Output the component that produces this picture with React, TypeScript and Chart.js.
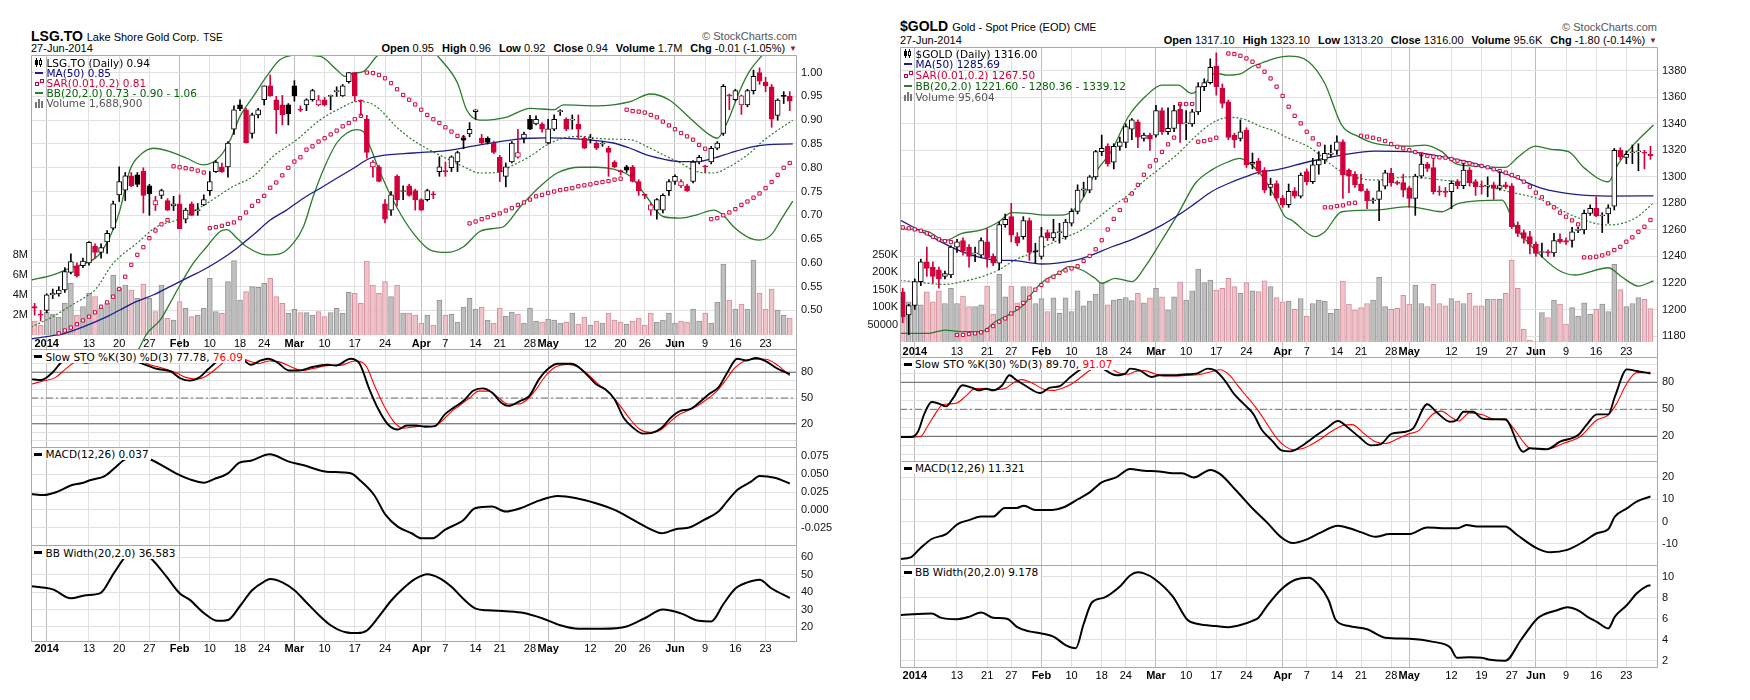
import React, { useEffect, useRef } from "react";
import { Chart, registerables } from "chart.js";

Chart.register(...registerables);

type P = [number, number];

/* ===================== LSG.TO  (30-Dec-2013 .. 27-Jun-2014, day index) ===================== */
const lsgTicks: [number, string][] = [
  [2, "2014"], [9, "13"], [14, "20"], [19, "27"], [24, "Feb"], [29, "10"], [34, "18"], [38, "24"],
  [43, "Mar"], [48, "10"], [53, "17"], [58, "24"], [64, "Apr"], [68, "7"], [73, "14"], [77, "21"],
  [82, "28"], [85, "May"], [92, "12"], [97, "20"], [101, "26"], [106, "Jun"], [111, "9"], [116, "16"], [121, "23"],
];
const lsgOpen = [
  0.508, 0.492, 0.5, 0.533, 0.535, 0.543, 0.58, 0.594, 0.594, 0.6,
  0.635, 0.622, 0.644, 0.673, 0.743, 0.753, 0.783, 0.785, 0.793, 0.762,
  0.722, 0.742, 0.731, 0.72, 0.724, 0.692, 0.724, 0.71, 0.722, 0.752,
  0.792, 0.802, 0.802, 0.881, 0.932, 0.922, 0.872, 0.911, 0.943, 0.972,
  0.943, 0.932, 0.932, 0.972, 0.922, 0.932, 0.943, 0.932, 0.943, 0.95,
  0.96, 0.951, 0.981, 1.0, 0.94, 0.902, 0.802, 0.802, 0.724, 0.711,
  0.782, 0.75, 0.762, 0.752, 0.733, 0.733, 0.744, 0.792, 0.792, 0.8,
  0.812, 0.862, 0.871, 0.918, 0.862, 0.862, 0.852, 0.822, 0.782, 0.812,
  0.822, 0.862, 0.902, 0.892, 0.892, 0.852, 0.881, 0.918, 0.902, 0.9,
  0.892, 0.862, 0.86, 0.852, 0.85, 0.841, 0.812, 0.792, 0.802, 0.802,
  0.771, 0.742, 0.711, 0.711, 0.711, 0.752, 0.771, 0.762, 0.762, 0.771,
  0.812, 0.802, 0.812, 0.841, 0.872, 0.951, 0.943, 0.932, 0.932, 0.962,
  1.0, 0.98, 0.97, 0.91, 0.952, 0.95,
];
const lsgHigh = [
  0.515, 0.5, 0.535, 0.545, 0.55, 0.59, 0.619, 0.6, 0.61, 0.645,
  0.64, 0.64, 0.668, 0.73, 0.802, 0.79, 0.79, 0.79, 0.8, 0.765,
  0.74, 0.755, 0.735, 0.74, 0.743, 0.715, 0.728, 0.725, 0.743, 0.792,
  0.815, 0.81, 0.855, 0.93, 0.943, 0.925, 0.915, 0.925, 0.972, 0.995,
  0.95, 0.952, 0.935, 0.983, 0.93, 0.945, 0.965, 0.952, 0.948, 0.953,
  0.97, 0.975, 1.0, 1.0, 0.942, 0.91, 0.815, 0.805, 0.733, 0.75,
  0.785, 0.762, 0.765, 0.755, 0.735, 0.755, 0.75, 0.823, 0.812, 0.825,
  0.835, 0.868, 0.895, 0.922, 0.87, 0.865, 0.856, 0.826, 0.81, 0.855,
  0.881, 0.875, 0.91, 0.909, 0.895, 0.902, 0.911, 0.922, 0.905, 0.911,
  0.911, 0.865, 0.87, 0.855, 0.855, 0.845, 0.815, 0.795, 0.805, 0.805,
  0.775, 0.745, 0.725, 0.735, 0.745, 0.775, 0.785, 0.775, 0.765, 0.815,
  0.826, 0.805, 0.845, 0.855, 0.975, 0.955, 0.965, 0.953, 0.965, 1.005,
  1.01, 0.99, 0.975, 0.945, 0.96, 0.96,
];
const lsgLow = [
  0.49, 0.478, 0.495, 0.525, 0.53, 0.538, 0.577, 0.57, 0.59, 0.595,
  0.61, 0.61, 0.62, 0.67, 0.729, 0.731, 0.76, 0.76, 0.705, 0.7,
  0.71, 0.735, 0.71, 0.71, 0.672, 0.684, 0.7, 0.7, 0.72, 0.742,
  0.79, 0.79, 0.78, 0.87, 0.92, 0.852, 0.862, 0.905, 0.932, 0.95,
  0.872, 0.89, 0.89, 0.94, 0.918, 0.92, 0.94, 0.93, 0.93, 0.922,
  0.95, 0.95, 0.978, 0.94, 0.91, 0.82, 0.78, 0.77, 0.684, 0.7,
  0.72, 0.733, 0.74, 0.711, 0.71, 0.73, 0.735, 0.782, 0.782, 0.792,
  0.792, 0.84, 0.865, 0.902, 0.85, 0.85, 0.83, 0.771, 0.76, 0.81,
  0.82, 0.852, 0.88, 0.89, 0.875, 0.85, 0.878, 0.91, 0.878, 0.881,
  0.862, 0.84, 0.852, 0.838, 0.845, 0.782, 0.8, 0.785, 0.79, 0.77,
  0.742, 0.735, 0.7, 0.692, 0.705, 0.742, 0.765, 0.758, 0.75, 0.768,
  0.808, 0.79, 0.808, 0.838, 0.868, 0.922, 0.94, 0.912, 0.928, 0.955,
  0.975, 0.96, 0.885, 0.9, 0.935, 0.92,
];
const lsgClose = [
  0.505, 0.49, 0.533, 0.536, 0.543, 0.582, 0.603, 0.573, 0.604, 0.643,
  0.622, 0.632, 0.662, 0.724, 0.771, 0.783, 0.762, 0.765, 0.742, 0.745,
  0.731, 0.752, 0.711, 0.724, 0.672, 0.711, 0.7, 0.711, 0.733, 0.771,
  0.812, 0.792, 0.852, 0.922, 0.924, 0.852, 0.911, 0.922, 0.972, 0.951,
  0.922, 0.911, 0.913, 0.951, 0.921, 0.943, 0.962, 0.943, 0.932, 0.951,
  0.962, 0.972, 1.0, 0.951, 0.94, 0.832, 0.812, 0.771, 0.692, 0.743,
  0.733, 0.752, 0.742, 0.733, 0.711, 0.752, 0.743, 0.802, 0.792, 0.823,
  0.832, 0.858, 0.881, 0.922, 0.852, 0.853, 0.832, 0.792, 0.802, 0.852,
  0.832, 0.871, 0.881, 0.902, 0.881, 0.882, 0.902, 0.92, 0.881, 0.902,
  0.881, 0.841, 0.862, 0.841, 0.852, 0.832, 0.802, 0.792, 0.795, 0.771,
  0.752, 0.742, 0.722, 0.733, 0.742, 0.771, 0.782, 0.771, 0.752, 0.812,
  0.822, 0.802, 0.841, 0.852, 0.971, 0.951, 0.962, 0.951, 0.962, 0.992,
  0.982, 0.972, 0.902, 0.942, 0.95, 0.94,
];
const lsgVolumeM = [
  1.4, 1.0, 2.3, 2.1, 1.8, 3.2, 5.17, 2.0, 2.83, 4.17,
  3.83, 2.67, 3.17, 6.0, 4.67, 5.0, 4.5, 3.67, 5.1, 3.67,
  2.33, 5.0, 1.67, 1.5, 3.33, 2.67, 1.83, 2.0, 2.67, 5.67,
  2.33, 2.17, 5.33, 7.43, 3.5, 4.33, 4.83, 4.77, 5.17, 5.67,
  3.83, 3.17, 2.17, 2.57, 2.23, 2.23, 2.0, 2.33, 1.83, 2.23,
  2.67, 2.17, 4.27, 4.17, 3.17, 7.4, 5.0, 4.17, 5.33, 3.83,
  5.0, 2.2, 2.2, 2.0, 1.2, 2.0, 1.0, 3.5, 2.0, 2.1,
  1.3, 2.8, 3.67, 2.6, 2.8, 1.5, 1.2, 2.7, 1.9, 2.3,
  2.1, 1.2, 2.7, 1.4, 1.3, 1.6, 1.5, 1.2, 1.3, 2.2,
  1.1, 1.8, 1.0, 1.4, 1.2, 2.2, 1.5, 1.3, 1.1, 1.4,
  1.7, 1.0, 2.2, 1.3, 1.5, 2.2, 1.2, 1.4, 1.3, 2.6,
  1.4, 2.2, 1.2, 3.3, 7.1, 3.5, 2.6, 3.1, 2.6, 7.5,
  4.2, 2.6, 4.6, 2.5, 2.0, 1.69,
];
const lsgSar: (number | null)[] = [
  null, null, null, null, 0.452, 0.458, 0.464, 0.471, 0.479, 0.487,
  0.496, 0.508, 0.517, 0.529, 0.545, 0.571, 0.596, 0.617, 0.633, 0.652,
  0.668, 0.681, 0.69, 0.803, 0.801, 0.799, 0.797, 0.794, 0.79, 0.673,
  0.675, 0.678, 0.682, 0.685, 0.694, 0.706, 0.72, 0.73, 0.741, 0.758,
  0.769, 0.784, 0.8, 0.813, 0.822, 0.838, 0.845, 0.855, 0.862, 0.87,
  0.878, 0.887, 0.894, 0.902, 0.909, 1.0, 0.999, 0.995, 0.988, 0.978,
  0.965, 0.953, 0.943, 0.933, 0.922, 0.911, 0.902, 0.894, 0.885, 0.876,
  0.867, 0.862, 0.683, 0.687, 0.692, 0.696, 0.701, 0.704, 0.71, 0.715,
  0.722, 0.727, 0.733, 0.74, 0.743, 0.747, 0.75, 0.753, 0.755, 0.757,
  0.761, 0.763, 0.765, 0.768, 0.77, 0.772, 0.775, 0.777, 0.922, 0.919,
  0.918, 0.916, 0.911, 0.906, 0.897, 0.889, 0.881, 0.873, 0.866, 0.859,
  0.848, 0.84, 0.692, 0.694, 0.7, 0.706, 0.713, 0.722, 0.729, 0.737,
  0.746, 0.757, 0.77, 0.785, 0.8, 0.81,
];
const lsgMa50: P[] = [
  [-0.6, 0.44], [3, 0.447], [5, 0.452], [12, 0.487], [14.1, 0.501], [16.9, 0.519], [19.7, 0.533], [22.4, 0.55],
  [25.2, 0.568], [27.9, 0.585], [30.7, 0.606], [33.5, 0.631], [36.2, 0.659], [39, 0.69], [41.7, 0.711], [44.5, 0.736],
  [47.3, 0.757], [50, 0.778], [52.8, 0.799], [55.5, 0.82], [57.2, 0.825], [62.7, 0.831], [68.2, 0.836], [73.7, 0.848],
  [79.3, 0.859], [82, 0.862], [84.8, 0.863], [90.3, 0.86], [95.8, 0.852], [98.6, 0.841], [101.3, 0.827], [104.1, 0.818],
  [106.9, 0.813], [109.6, 0.813], [112.4, 0.82], [115.1, 0.831], [118.4, 0.843], [121, 0.848], [125.5, 0.85],
];
const lsgBbUpper: P[] = [
  [-0.6, 0.564], [3.1, 0.575], [5.9, 0.589], [8.6, 0.6], [10.5, 0.615], [11.9, 0.641], [13, 0.67], [14.1, 0.71],
  [15.8, 0.796], [17.5, 0.827], [19.7, 0.841], [22.4, 0.834], [25.2, 0.82], [27.9, 0.806], [30.7, 0.824], [32.4, 0.859],
  [34, 0.908], [36.2, 0.95], [38.4, 0.992], [40.6, 1.027], [43.4, 1.037], [47.3, 1.034], [50, 1.006], [51.4, 0.992],
  [52.8, 0.999], [54.4, 1.002], [56.6, 1.034], [58.3, 1.05], [60, 1.09], [62, 1.11], [64, 1.08], [66.6, 1.037],
  [70, 0.978], [71.5, 0.922], [73.7, 0.9], [78, 0.906], [82, 0.925], [86, 0.922], [87.5, 0.932], [93, 0.93],
  [98.6, 0.939], [101.9, 0.955], [105, 0.943], [108.5, 0.904], [111.3, 0.873], [113, 0.862], [114.6, 0.894],
  [116.8, 0.964], [118.3, 1.002], [120, 1.03], [122, 1.055], [125.5, 1.06],
];
const lsgBbMid: P[] = [
  [-0.6, 0.465], [3, 0.487], [6, 0.51], [8.6, 0.53], [10, 0.543], [13, 0.599], [16.9, 0.641], [20.2, 0.676],
  [23.5, 0.69], [28.5, 0.725], [32.9, 0.761], [36.2, 0.782], [39.5, 0.824], [43.4, 0.859], [47.3, 0.901], [50.6, 0.925],
  [53.3, 0.939], [55.5, 0.936], [57.2, 0.922], [59.8, 0.887], [62.5, 0.859], [65.3, 0.838], [68.1, 0.82], [70.9, 0.803],
  [73.7, 0.789], [76.5, 0.79], [79.3, 0.806], [82, 0.824], [84.8, 0.848], [87.5, 0.862], [90.3, 0.866], [93, 0.862],
  [95.8, 0.86], [98.6, 0.859], [101.3, 0.845], [104.1, 0.827], [106.9, 0.81], [109.6, 0.792], [112.4, 0.789],
  [115.1, 0.803], [118.4, 0.831], [120, 0.85], [122, 0.87], [125.5, 0.9],
];
const lsgBbLower: P[] = [
  [-0.6, 0.37], [5, 0.38], [10, 0.39], [14, 0.4], [17, 0.415], [18.6, 0.452], [20.8, 0.48], [22.4, 0.515],
  [24.1, 0.554], [26.3, 0.6], [28.5, 0.634], [30.7, 0.666], [31.8, 0.67], [33.5, 0.652], [35.1, 0.634], [38.4, 0.617],
  [40.6, 0.619], [42.8, 0.641], [44.5, 0.676], [46.1, 0.739], [47.8, 0.796], [50, 0.852], [51.7, 0.873], [53.3, 0.88],
  [54.4, 0.876], [55.5, 0.845], [57.2, 0.79], [59.9, 0.718], [62.7, 0.662], [65.5, 0.627], [68.2, 0.622], [71, 0.634],
  [73.7, 0.666], [76.5, 0.673], [77.6, 0.676], [80.4, 0.718], [83.7, 0.761], [86.5, 0.789], [90.3, 0.801], [93, 0.801],
  [95.8, 0.797], [98.6, 0.782], [101.3, 0.739], [104.1, 0.697], [106.9, 0.694], [109.6, 0.701], [112.4, 0.711],
  [114, 0.7], [115.7, 0.676], [118.4, 0.652], [120, 0.648], [122, 0.66], [123.5, 0.69], [125.5, 0.73],
];
const lsgStoK: P[] = [
  [-0.6, 72], [1.1, 71], [3, 80], [4.2, 89.8], [5.4, 95.7], [6.9, 93.7], [8.5, 91], [10.1, 93.7], [11.6, 97.6],
  [13.2, 99.6], [15.5, 95.7], [17.9, 89.8], [20.2, 84], [22.6, 80.8], [24.1, 73], [25.7, 70.2], [27.3, 74.1],
  [28.8, 84], [30.4, 93.7], [31.9, 99.6], [34.3, 95.7], [35.8, 88.6], [37.4, 93.7], [38.6, 95.7], [40.1, 91.8],
  [42.1, 82], [43.7, 82], [46, 86], [48.3, 88.6], [49.9, 87.8], [52.3, 95.7], [53.8, 89.8], [55.4, 60.4],
  [56.9, 36.9], [58.5, 19.2], [60.1, 13.3], [61.6, 18], [63.2, 18], [64.7, 16.5], [66.3, 17.3], [67.9, 31],
  [69.4, 38.8], [71, 46.7], [72.6, 58.4], [74.1, 61.2], [75.7, 56.5], [77.2, 44.7], [78.4, 40.8], [80.4, 46.7],
  [81.9, 52.5], [83.5, 72], [85, 84], [86.6, 89.8], [88.9, 89.8], [91.3, 78], [92.9, 66.3], [94.4, 60.4],
  [96, 48.6], [97.5, 27.1], [99.1, 15.3], [100.7, 8.6], [102.2, 9.4], [103.8, 15.3], [105.3, 27.1], [106.9, 35],
  [108.5, 37], [110, 44.7], [111.6, 54.5], [113.2, 62.4], [114.7, 80], [116.3, 95.7], [117.9, 93.7], [119.4, 96.5],
  [121, 93], [123, 84], [125, 77.78],
];
const lsgStoD: P[] = [
  [-0.6, 66], [1.5, 70], [3.5, 74], [5, 83], [6.5, 91], [8, 93], [9.5, 92], [11, 94], [12.5, 96], [14, 97],
  [16.5, 95], [19, 89], [21.5, 84], [23.5, 79], [25, 74], [26.8, 72], [28.5, 76], [30, 84], [31.6, 93], [33.5, 97],
  [35.5, 93], [37, 90], [38.8, 93], [40.5, 92], [42.5, 86], [44.2, 82], [46.5, 85], [48.8, 88], [50.5, 88], [53, 93],
  [54.8, 88], [56.3, 64], [57.9, 40], [59.5, 22], [61, 15], [62.5, 16], [64.2, 17.5], [65.7, 17], [67.2, 22],
  [68.8, 33], [70.3, 41], [72, 50], [73.5, 58], [75.2, 58], [76.7, 51], [78.3, 43], [80, 43], [81.5, 48], [83, 60],
  [84.5, 75], [86.2, 86], [88.3, 89], [90, 86], [91.8, 76], [93.5, 65], [95, 57], [96.8, 42], [98.5, 26],
  [100.1, 14], [101.8, 10], [103.4, 12], [105, 21], [106.5, 30], [108, 35], [109.5, 40], [111.2, 48], [112.8, 57],
  [114.3, 70], [115.9, 85], [117.5, 93], [119, 95], [121, 95], [123, 88], [125, 76.09],
];
const lsgMacd: P[] = [
  [-0.6, 0.0223], [1.5, 0.0209], [3.8, 0.0256], [6.2, 0.0349], [7.7, 0.0372], [9.3, 0.0419], [11.6, 0.0474],
  [13.2, 0.0582], [14.8, 0.0698], [16.5, 0.076], [18, 0.075], [19.4, 0.0698], [21, 0.0628], [23.4, 0.0512],
  [25.7, 0.0428], [28.1, 0.0381], [29.6, 0.0428], [32, 0.0512], [33.9, 0.0661], [35.8, 0.0689], [38.9, 0.0777],
  [42.1, 0.0675], [44.4, 0.0628], [48.3, 0.0535], [52.3, 0.0512], [53.8, 0.0419], [56.2, 0.0209], [58.1, -0.007],
  [60.1, -0.0233], [62.4, -0.0326], [64, -0.0396], [65.9, -0.0396], [67.9, -0.0279], [71, -0.014], [72.9, 0.0023],
  [75.7, 0.0047], [78, -0.0023], [80.4, 0.0023], [83.5, 0.013], [86.6, 0.0195], [89.7, 0.0163], [92.9, 0.0093],
  [96, 0], [99.1, -0.014], [102.2, -0.0279], [103.8, -0.0326], [106.1, -0.027], [108.5, -0.0242], [110.8, -0.014],
  [113.2, -0.0023], [114.7, 0.0126], [116.3, 0.0279], [118.6, 0.0395], [120, 0.0474], [122.5, 0.045], [125, 0.037],
];
const lsgBbw: P[] = [
  [-0.6, 43.3], [3, 41.5], [6, 36.4], [8.5, 38.2], [10.8, 39.2], [13.1, 50.7], [15, 60], [16.5, 63], [18, 62],
  [19.4, 58.8], [21.8, 48.9], [24, 39.3], [25.7, 35.5], [28, 28], [30.3, 23.5], [32, 24], [34, 32], [36, 41],
  [38, 46], [39, 47.4], [41, 45.5], [43, 41], [45, 34], [47, 27], [49, 21], [51.5, 17], [53.5, 16.5], [55, 18],
  [57, 26], [59, 35], [61, 42], [63, 47.5], [65, 50.2], [67, 48], [69, 43], [71, 36], [73, 30.5], [75, 29.5],
  [78, 29], [81, 28], [84, 25], [87, 21], [90, 19], [94, 19], [98, 20.3], [101, 25], [104, 30], [107, 27.8],
  [110, 23.5], [112, 23.2], [114, 33], [116, 42], [118, 45.5], [120, 47], [122, 42], [125, 36.58],
];

/* ===================== $GOLD  (30-Dec-2013 .. 27-Jun-2014, day index) ===================== */
const goldTicks: [number, string][] = [
  [2, "2014"], [9, "13"], [14, "21"], [18, "27"], [23, "Feb"], [28, "10"], [33, "18"], [37, "24"],
  [42, "Mar"], [47, "10"], [52, "17"], [57, "24"], [63, "Apr"], [67, "7"], [72, "14"], [76, "21"],
  [81, "28"], [84, "May"], [91, "12"], [96, "19"], [101, "27"], [105, "Jun"], [110, "9"], [115, "16"], [120, "23"],
];
const goldOpen = [
  1213.4, 1196, 1203, 1221, 1236, 1232, 1230, 1225, 1226, 1247,
  1252, 1247, 1242, 1241, 1251, 1240, 1235, 1264, 1270, 1255,
  1255, 1267, 1243.8, 1240, 1258, 1254, 1258, 1255, 1265, 1274,
  1290, 1290, 1300, 1319, 1323, 1311, 1323, 1326, 1336, 1341.5,
  1329, 1331.5, 1331.5, 1350, 1334, 1336.5, 1351, 1340, 1340, 1349,
  1368, 1371, 1383.5, 1366.7, 1356.6, 1331.5, 1329, 1335, 1309.5, 1312,
  1305, 1292, 1295, 1283.8, 1279, 1289.5, 1285.5, 1304, 1296.4, 1309,
  1312.7, 1317, 1320, 1326.5, 1305, 1302, 1294.6, 1289.5, 1282, 1283,
  1293, 1302.6, 1296, 1295.6, 1291.8, 1283.8, 1300.6, 1309.7, 1307, 1289.5,
  1288.5, 1288.8, 1296.4, 1293.3, 1305.1, 1296.4, 1293.2, 1293, 1294, 1291.3,
  1294, 1293.3, 1263.6, 1258, 1254.9, 1249.3, 1243, 1243.6, 1242.7, 1253,
  1252, 1252, 1259.6, 1260, 1272.5, 1276.3, 1270.5, 1272, 1278, 1320,
  1314.6, 1318.2, 1318.8, 1318.2, 1317.1,
];
const goldHigh = [
  1216, 1204, 1223, 1238, 1247, 1236, 1232, 1229, 1248, 1253,
  1254, 1249, 1247, 1254, 1261, 1242, 1266, 1272, 1280, 1258,
  1270, 1269, 1250, 1262, 1260, 1268, 1265, 1268, 1276, 1294,
  1296, 1301, 1320, 1331.5, 1325, 1325, 1330, 1340, 1344, 1343,
  1333, 1333, 1354, 1352, 1352, 1354, 1355, 1350, 1351, 1371,
  1374, 1389, 1393.5, 1370, 1358, 1333, 1343, 1337, 1318, 1314,
  1307, 1299, 1297, 1286, 1294.6, 1292, 1303, 1306, 1314, 1319,
  1324, 1324, 1331, 1328, 1306, 1304, 1302, 1291, 1284, 1297,
  1305, 1306.5, 1297, 1302, 1293, 1302, 1317.7, 1311, 1313.9, 1293,
  1292, 1297, 1298, 1310, 1307, 1298, 1297, 1300, 1296, 1304,
  1296, 1295, 1266, 1260, 1259, 1251, 1250, 1245, 1257.4, 1257,
  1254, 1262, 1262, 1275, 1279, 1285, 1273, 1279, 1321.5, 1322,
  1319.5, 1324, 1325, 1320, 1323.1,
];
const goldLow = [
  1190, 1181, 1200, 1218, 1225, 1220, 1216, 1223, 1224, 1243,
  1241, 1232, 1236, 1239, 1232, 1233, 1230, 1262, 1251, 1248,
  1253, 1237, 1235, 1238, 1252, 1252, 1250, 1253, 1263, 1272,
  1285, 1288, 1298, 1316, 1308, 1306, 1320, 1322, 1328, 1322,
  1327, 1320, 1330, 1332, 1332, 1334, 1326, 1328, 1338, 1347,
  1365, 1370, 1361.6, 1352, 1328, 1322, 1327, 1307, 1306, 1302,
  1288, 1286, 1282, 1277, 1277, 1284, 1284, 1294, 1295, 1302,
  1310, 1315, 1317, 1283.8, 1288, 1292, 1289, 1276, 1280, 1267,
  1291, 1293, 1294, 1285, 1277, 1271, 1299, 1304, 1287, 1286,
  1285, 1276, 1291, 1291, 1293, 1286, 1287, 1285, 1283, 1290,
  1291, 1261, 1255, 1250, 1242, 1240, 1239.5, 1240, 1240, 1250,
  1249, 1247, 1258, 1257, 1271, 1270, 1258, 1265, 1275, 1313,
  1310, 1310, 1304.6, 1306, 1313.2,
];
const goldClose = [
  1194.6, 1203, 1221, 1236, 1231, 1225, 1223, 1227, 1247, 1251,
  1244, 1240, 1242.5, 1252, 1239, 1235, 1264, 1268, 1256, 1250,
  1267, 1243, 1243.5, 1255, 1254, 1258, 1258.5, 1266, 1274, 1290,
  1291, 1300, 1319, 1321.5, 1310, 1323, 1326.5, 1338, 1343, 1330,
  1331.5, 1328.5, 1350, 1334, 1336.5, 1350, 1340, 1340.5, 1349, 1368,
  1371, 1382.5, 1368, 1355.4, 1329.8, 1327.8, 1334, 1309, 1311, 1304.6,
  1290, 1294.5, 1284, 1278.8, 1289, 1285.5, 1301.4, 1296.4, 1309, 1312.7,
  1317.7, 1318, 1326.5, 1301.4, 1300.5, 1294, 1289.5, 1282, 1282.3, 1289.5,
  1303, 1295.6, 1295, 1290, 1283.8, 1300.6, 1309.7, 1306.4, 1288.8, 1288.6,
  1288.3, 1295.1, 1293.3, 1305.1, 1295.6, 1292.6, 1292.4, 1293.6, 1291.3, 1293.5,
  1292.5, 1262.4, 1257.4, 1253.6, 1249.3, 1242.3, 1243.6, 1242.7, 1252, 1251,
  1250.8, 1258.6, 1260, 1272.5, 1276.3, 1270.6, 1271, 1276.7, 1320, 1315,
  1317, 1318.5, 1319, 1317.8, 1316.0,
];
const goldVolumeK = [
  106, 115, 129, 106, 143, 115, 146, 110, 153, 110,
  131, 101, 101, 106, 160, 80, 193, 129, 160, 112,
  158, 158, 110, 124, 87, 126, 82, 126, 87, 146,
  103, 117, 137, 170, 106, 120, 122, 127, 118, 139,
  112, 126, 153, 129, 91, 129, 172, 120, 146, 208,
  170, 177, 148, 153, 182, 158, 139, 170, 146, 144,
  175, 158, 127, 115, 117, 93, 124, 74, 110, 120,
  117, 82, 93, 174, 108, 91, 98, 110, 120, 185,
  101, 93, 96, 133, 108, 162, 110, 101, 165, 110,
  103, 124, 117, 110, 139, 103, 103, 122, 122, 122,
  139, 234, 153, 36, 5, 1, 84, 70, 120, 108,
  51, 98, 74, 112, 79, 93, 108, 87, 222, 150,
  101, 110, 127, 122, 95.6,
];
const goldSar: (number | null)[] = [
  1261.9, 1261.2, 1260.4, 1259.4, 1257.4, 1254.9, 1252.9, 1251.6, 1250.8, 1180.8,
  1180.8, 1181.5, 1182, 1182.8, 1184.5, 1187.5, 1190.8, 1193.3, 1197, 1201,
  1205, 1209, 1215, 1218.5, 1222, 1224.7, 1227.7, 1229.5, 1231, 1232.6,
  1236.6, 1240.4, 1245.4, 1252.2, 1260.3, 1268.3, 1275, 1282.3, 1287.4, 1294,
  1301.6, 1307.9, 1312.5, 1318.8, 1324.5, 1329.6, 1354.9, 1354.9, 1354.9, 1326.5,
  1327, 1328, 1329.5, null, 1393, 1392.6, 1391.3, 1389.3, 1386.8, 1383.5,
  1379.3, 1374.2, 1368, 1361, 1352.9, 1346, 1340.3, 1334, 1329, 1324.5,
  1277, 1277, 1278, 1278.5, 1280, 1280.5, 1331, 1330.3, 1329.5, 1328.3,
  1327, 1324.7, 1322.7, 1321.5, 1320.2, 1318.7, 1317, 1315.7, 1315.2, 1314.7,
  1314.5, 1313.5, 1312.2, 1311.2, 1310.2, 1309, 1308.2, 1307.2, 1305.7, 1304.4,
  1303.2, 1301.4, 1299.7, 1296.4, 1292.6, 1288.1, 1284.6, 1280, 1277, 1273,
  1270, 1267.2, 1264.2, 1239.3, 1239.3, 1239.8, 1240.8, 1242.3, 1244.8, 1247.3,
  1251.1, 1254.4, 1258.6, 1262.4, 1267.5,
];
const goldMa50: P[] = [
  [-0.5, 1267.6], [4.3, 1256], [9.8, 1243.6], [15.3, 1237.3], [18.1, 1237], [23, 1234.3], [28.7, 1237.3],
  [30.8, 1240], [34.7, 1247.3], [38.5, 1253.6], [43, 1263.6], [45.7, 1271.2], [48.5, 1280], [51.2, 1288.8],
  [54, 1295], [56.8, 1300], [59.5, 1303.9], [61.7, 1305], [67.3, 1311.4], [72.8, 1316.4], [78.3, 1319.4],
  [83.9, 1319], [89.4, 1315.2], [94.9, 1310], [100.5, 1301.4], [106, 1291.3], [111.5, 1286.8], [117, 1285.5],
  [124.5, 1285.69],
];
const goldBbUpper: P[] = [
  [-0.5, 1261], [4.3, 1258.6], [7, 1252], [9.8, 1257.4], [13.1, 1260], [15.9, 1266], [18.1, 1273], [20.8, 1272.5],
  [23.6, 1271.2], [26.4, 1271.2], [28, 1273.7], [29.7, 1282.5], [31.9, 1302.6], [34.7, 1320.2], [37.4, 1345.3],
  [40.2, 1360.4], [43, 1369.2], [45.7, 1369.2], [47.9, 1362.9], [50.1, 1370.4], [51.8, 1378], [54, 1376.7],
  [56.2, 1378], [57.9, 1383], [60.1, 1386.8], [61.7, 1389.3], [64, 1391], [67.3, 1386.8], [70, 1370.4],
  [72.8, 1339], [75.6, 1330.3], [78.3, 1325.2], [83.9, 1323.2], [86.6, 1324], [89.4, 1319], [91.6, 1310.2],
  [94.9, 1308.1], [99.9, 1307.1], [102.1, 1315.2], [104.9, 1323.2], [107.6, 1320.7], [110.4, 1319],
  [113.1, 1306.4], [117, 1296.3], [118.7, 1310.2], [121.4, 1325.2], [124.5, 1339.12],
];
const goldBbMid: P[] = [
  [-0.5, 1222], [4.3, 1219.7], [7, 1218.9], [9.8, 1221], [13.1, 1224.7], [15.9, 1229.8], [18.6, 1237.3],
  [21.9, 1243.6], [24.7, 1250], [27.5, 1255.4], [29.7, 1260], [31.9, 1267.4], [34.7, 1277.5], [37.4, 1286.3],
  [40.2, 1297.6], [43, 1307.6], [45.7, 1317.7], [48.5, 1330.3], [51.2, 1340.3], [54, 1344.8], [56.2, 1344],
  [59.5, 1337.8], [61.7, 1334.5], [63.4, 1330.3], [67.3, 1322.7], [72.8, 1303.9], [78.3, 1297.6], [83.9, 1300],
  [89.4, 1297.6], [94.9, 1295], [100.5, 1288.8], [106, 1282.5], [111.5, 1270], [117, 1263.7], [121.4, 1268.7],
  [124.5, 1280.36],
];
const goldBbLower: P[] = [
  [-0.5, 1182], [4.3, 1182], [7, 1184.5], [9.8, 1183.3], [13.1, 1183.3], [15.3, 1190.8], [17.5, 1195.8],
  [20.3, 1204.6], [21.4, 1212], [23.6, 1222.2], [25.8, 1227.2], [27.5, 1232.3], [29.7, 1229.8], [31.9, 1223.5],
  [33, 1219.7], [35.2, 1223.5], [38, 1221], [40.2, 1232.3], [43, 1252.4], [45.7, 1272.5], [48.5, 1295],
  [51.2, 1305.1], [54, 1311.4], [55.9, 1313.9], [57.9, 1308.9], [60.1, 1297.6], [61.7, 1285], [63.4, 1270],
  [64.5, 1267.4], [68.4, 1254.9], [70, 1258.6], [72.8, 1273.7], [78.3, 1275], [83.9, 1277.5], [89.4, 1273.7],
  [92.2, 1280], [99.4, 1282.5], [101.6, 1262.4], [104.9, 1244.8], [108.7, 1229.8], [111.5, 1226], [117, 1231.5],
  [119.2, 1224.7], [122, 1217.7], [124.5, 1221.6],
];
const goldStoK: P[] = [
  [-0.5, 19.2], [1.3, 19.2], [2.5, 24.8], [3.6, 45.2], [4.8, 58.1], [6, 56.3], [7.2, 53.3], [8.3, 61.8],
  [9.9, 76.7], [11.5, 74], [12.6, 71.1], [13.8, 72.9], [15, 71.1], [16.5, 76.7], [17.7, 87.8], [18.9, 82.2],
  [20.5, 75.6], [22.8, 68.1], [24.4, 74], [26, 75.6], [27.5, 84.1], [29.1, 92.6], [30.5, 98], [32, 100],
  [33.8, 92.6], [35.4, 87.8], [36.9, 89.6], [37.7, 95.2], [39.3, 93.3], [41.3, 85.9], [42.5, 87.8], [44.8, 87.8],
  [47.2, 88.9], [48.7, 89.6], [50.6, 95.2], [51.8, 93.3], [53.4, 82.2], [54.9, 67.4], [56.5, 56.3], [58.1, 45.2],
  [59.6, 26.7], [61.2, 15.6], [62.8, 4.4], [64.3, 3.3], [65.9, 8.1], [67.1, 13.7], [68.6, 21.1], [70.2, 28.5],
  [72.2, 37], [73.7, 30.4], [75.7, 19.3], [77.6, 10], [79.2, 11], [81.1, 22.9], [83.1, 24.8], [84.6, 28.5],
  [87, 55.6], [88.5, 47], [90.8, 36.2], [91.9, 38.1], [93, 47.3], [94.6, 47.3], [96, 40], [97.4, 38.9],
  [99.9, 38.9], [102.9, 2.9], [104, 6.7], [106.8, 5.6], [109, 14], [112, 21.4], [113.4, 32.6], [115.1, 44.4],
  [117, 44.4], [118.1, 64], [120.1, 94.4], [121.7, 92.6], [124, 89.7],
];
const goldStoD: P[] = [
  [-0.5, 19], [1.5, 19], [3, 20], [4.2, 32], [5.4, 45], [6.6, 55], [7.8, 56], [9, 57], [10.5, 65], [12, 73],
  [13.3, 73], [14.5, 72], [15.8, 72], [17.2, 74], [18.5, 80], [19.7, 83], [21.2, 80], [23.5, 72], [25, 71],
  [26.7, 74], [28.2, 79], [29.8, 87], [31.2, 94], [33, 97], [34.5, 95], [36, 90], [37.5, 89], [38.5, 92],
  [40, 93], [42, 89], [43.3, 87], [45.5, 87], [48, 88], [49.5, 89], [51.3, 92], [52.6, 94], [54.2, 88],
  [55.6, 76], [57.2, 63], [58.8, 50], [60.4, 34], [62, 18], [63.6, 8], [65, 5], [66.6, 7], [67.8, 11],
  [69.3, 17], [71, 25], [73, 32], [74.5, 33], [76.5, 23], [78.4, 14], [80, 12], [82, 17], [84, 23], [85.5, 26],
  [87.8, 44], [89.3, 48], [91, 41], [92.2, 37], [94, 46], [96.3, 43.6], [98, 38.9], [99.9, 38.1], [101.5, 27],
  [102.9, 14], [104, 6.7], [106.8, 5.6], [109.6, 12.3], [112.3, 19.6], [115.1, 38.1], [117, 43.6],
  [118.4, 56.6], [120.1, 78.9], [121.7, 90.7], [124, 91.07],
];
const goldMacd: P[] = [
  [-0.5, -16.8], [1.3, -16.1], [2.8, -12.3], [4.8, -7.8], [7.2, -5.6], [9.1, -1.1], [11.1, 0.8], [13, 2.3],
  [15, 2.3], [16.9, 6.2], [18.9, 6.2], [20.1, 7.2], [22, 5.3], [24.8, 5.3], [26.7, 6.5], [29.1, 10.2], [31, 13.2],
  [33, 17.7], [35.4, 19.9], [37.7, 23.7], [40, 22.9], [42.5, 22.6], [44.8, 21.8], [46.3, 21.8], [48.3, 19.9],
  [51, 23.3], [52.6, 21.5], [55.3, 14], [58.1, 5.7], [60.4, -0.3], [62.8, -7.1], [64.7, -9.6], [66.7, -8.3],
  [69, -5.3], [72.2, -1.8], [74.1, -3], [76.1, -4.8], [78.4, -6.8], [80.7, -5.6], [83.9, -5.6], [87, -2.6],
  [90.8, -3], [92, -3], [93.5, -1.5], [95.2, -2.2], [99.9, -2.2], [101.9, -6], [105.2, -12], [107.4, -13.8],
  [110.2, -12.7], [112.9, -9], [115.1, -5.2], [117, -3.4], [118.1, 2.3], [120.1, 6], [121.7, 9], [124, 11.32],
];
const goldBbw: P[] = [
  [-0.5, 6.34], [1.6, 6.43], [4.8, 6.5], [6.3, 6.1], [9, 5.95], [11.1, 6.2], [13, 6.6], [15, 6.1], [17.3, 6.0],
  [19, 5.2], [21, 4.8], [23, 4.6], [25, 4.3], [27, 3.5], [28.7, 3.2], [30, 5.5], [31.4, 7.56], [33.4, 8.0],
  [36.1, 9.1], [37.7, 10.1], [39, 10.4], [40, 10.3], [41.7, 9.8], [44.8, 8.1], [47.2, 5.9], [49, 5.5], [52, 5.3],
  [54, 5.2], [56, 5.4], [58, 5.8], [59, 6.1], [60.4, 7.2], [62.8, 8.8], [65.1, 9.7], [67.4, 9.9], [69, 9.2],
  [70.6, 7.8], [71.8, 5.9], [74, 5.3], [77, 5.0], [80, 4.2], [84, 4.1], [88, 3.8], [90.8, 3.26], [91.9, 2.3],
  [94, 2.35], [96, 2.3], [97.4, 2.1], [99.9, 2.0], [102.6, 4.05], [105.2, 6], [106.3, 6.4], [108.5, 6.8],
  [110.2, 7.1], [112, 6.8], [113.5, 6.2], [115.1, 5.7], [117, 5.08], [118.1, 6.2], [120.1, 7.3], [121.7, 8.4],
  [123.4, 9.1], [124, 9.18],
];

/* ---------- axis tick values ---------- */
const lsgPriceTicks = [0.5, 0.55, 0.6, 0.65, 0.7, 0.75, 0.8, 0.85, 0.9, 0.95, 1.0];
const lsgVolTicks = [2, 4, 6, 8];
const lsgMacdTicks = [-0.025, 0, 0.025, 0.05, 0.075];
const lsgBbwTicks = [20, 30, 40, 50, 60];
const goldPriceTicks = [1180, 1200, 1220, 1240, 1260, 1280, 1300, 1320, 1340, 1360, 1380];
const goldVolTicks = [50, 100, 150, 200, 250];
const goldMacdTicks = [-10, 0, 10, 20];
const goldBbwTicks = [2, 4, 6, 8, 10];
const stoGridTicks = [0, 10, 20, 30, 40, 50, 60, 70, 80, 90, 100];
const stoLevels = [20, 50, 80];

/* ---------- header / legend texts ---------- */
const lsgQuote: [string, string][] = [["Open", "0.95"], ["High", "0.96"], ["Low", "0.92"], ["Close", "0.94"], ["Volume", "1.7M"], ["Chg", "-0.01 (-1.05%)"]];
const goldQuote: [string, string][] = [["Open", "1317.10"], ["High", "1323.10"], ["Low", "1313.20"], ["Close", "1316.00"], ["Volume", "95.6K"], ["Chg", "-1.80 (-0.14%)"]];

/* ---------- styling ---------- */
const RED = "#d1003a";
const GRID = "#e1e1e1";
const GRID_MONTH = "#bdbdbd";
const FRAME = "#a8a8a8";
const BB_GREEN = "#2b7b2b";
const MA_BLUE = "#1d1d8e";
const VOL_UP_FILL = "#bfbfbf";
const VOL_UP_LINE = "#959595";
const VOL_DN_FILL = "#eec3ca";
const VOL_DN_LINE = "#d58e9a";
const FONT = "'Liberation Sans', Arial, Helvetica, sans-serif";
const LFONT = "'DejaVu Sans', Verdana, sans-serif";

const xy = (a: P[]) => a.map(([x, y]) => ({ x, y }));
const byDay = (a: (number | null)[]) => a.map((y, x) => ({ x, y }));

const framePlugin = {
  id: "paneFrame",
  afterDraw(chart: any, _a: any, opts: any) {
    const { ctx, chartArea: c } = chart;
    const l = Math.round(c.left) + 0.5, r = Math.round(c.right) - 0.5;
    const t = Math.round(c.top) + 0.5, b = Math.round(c.bottom) - 0.5;
    ctx.save();
    ctx.strokeStyle = FRAME;
    ctx.lineWidth = 1;
    ctx.beginPath();
    ctx.moveTo(l, b + 0.5);
    ctx.lineTo(l, t);
    ctx.lineTo(r, t);
    ctx.lineTo(r, b + 0.5);
    if (opts && opts.bottom) { ctx.moveTo(l, b); ctx.lineTo(r, b); }
    ctx.stroke();
    ctx.restore();
  },
};

function xAxis(ticks: [number, string][], min: number, max: number, mode: "none" | "inside" | "below", pad: number) {
  const labels = new Map(ticks);
  const strong = new Set(ticks.filter(([, s]) => !/^\d{1,2}$/.test(s)).map(([i]) => i));
  return {
    type: "linear", min, max, bounds: "data", offset: false,
    afterBuildTicks: (s: any) => { s.ticks = ticks.map(([v]) => ({ value: v })); },
    afterFit: (s: any) => { s.height = mode === "below" ? 16 : 0; s.paddingLeft = 0; s.paddingRight = 0; },
    grid: { offset: false, drawTicks: false, lineWidth: 1, color: (c: any) => (c.tick && strong.has(c.tick.value) ? GRID_MONTH : GRID) },
    border: { display: false },
    ticks: {
      display: mode !== "none", mirror: mode === "inside", autoSkip: false, maxRotation: 0, minRotation: 0,
      padding: pad, color: "#000",
      font: (c: any) => ({ family: FONT, size: 11, weight: c.tick && strong.has(c.tick.value) ? "bold" : "normal" }),
      callback: (v: number) => labels.get(v) ?? "",
    },
  };
}

function yAxis(o: { min: number; max: number; ticks: number[]; fmt: (v: number) => string; side: "left" | "right"; width: number; pad: number; grid?: boolean }) {
  return {
    type: "linear", axis: "y", position: o.side, min: o.min, max: o.max, bounds: "data",
    afterBuildTicks: (s: any) => { s.ticks = o.ticks.map((v) => ({ value: v })); },
    afterFit: (s: any) => { s.width = o.width; s.paddingTop = 0; s.paddingBottom = 0; },
    grid: { display: o.grid !== false, drawTicks: false, color: GRID, lineWidth: 1 },
    border: { display: false },
    ticks: { padding: o.pad, color: "#111", autoSkip: false, font: { family: FONT, size: 11 }, callback: (v: number) => o.fmt(v) },
  };
}

const lineSet = (data: any[], color: string, width: number, extra: any = {}) => ({
  type: "line", data, borderColor: color, borderWidth: width, pointRadius: 0, fill: false,
  cubicInterpolationMode: "monotone", order: 5, ...extra,
});

function baseOptions(scales: any, padLeft: number, frameBottom: boolean) {
  return {
    animation: false, responsive: true, maintainAspectRatio: false, events: [],
    layout: { autoPadding: false, padding: { left: padLeft, right: 0, top: 0, bottom: 0 } },
    plugins: { legend: { display: false }, tooltip: { enabled: false }, paneFrame: { bottom: frameBottom } },
    scales,
  };
}

interface Side {
  ticks: [number, string][]; xmin: number; xmax: number;
  o: number[]; h: number[]; l: number[]; c: number[]; vol: number[]; sar: (number | null)[];
  ma: P[]; up: P[]; mid: P[]; lo: P[]; k: P[]; d: P[]; macd: P[]; bbw: P[];
  price: { min: number; max: number; ticks: number[]; fmt: (v: number) => string };
  volume: { min: number; max: number; ticks: number[]; fmt: (v: number) => string };
  sto: { min: number; max: number };
  macdAx: { min: number; max: number; ticks: number[]; fmt: (v: number) => string };
  bbwAx: { min: number; max: number; ticks: number[]; fmt: (v: number) => string };
  leftW: number; rightW: number; rPad: number; vPad: number; insidePad: number; belowPad: number;
}

function mainConfig(s: Side) {
  const col = s.c.map((v, i) => (v >= (i ? s.c[i - 1] : s.o[i]) ? "#000" : RED));
  const fill = s.c.map((v, i) => (v > s.o[i] ? "#fff" : col[i]));
  const datasets: any[] = [
    {
      type: "bar", yAxisID: "yv", data: s.vol.map((v, i) => ({ x: i, y: v })),
      backgroundColor: col.map((k) => (k === RED ? VOL_DN_FILL : VOL_UP_FILL)),
      borderColor: col.map((k) => (k === RED ? VOL_DN_LINE : VOL_UP_LINE)),
      borderWidth: 1, barThickness: 5, grouped: false, order: 10,
    },
    lineSet(xy(s.up), BB_GREEN, 1.3, { order: 7 }),
    lineSet(xy(s.lo), BB_GREEN, 1.3, { order: 7 }),
    lineSet(xy(s.mid), BB_GREEN, 1.2, { order: 7, borderDash: [2, 2] }),
    lineSet(xy(s.ma), MA_BLUE, 1.3, { order: 6 }),
    {
      type: "line", data: byDay(s.sar), showLine: false, pointStyle: "rect", pointRadius: 2.3,
      pointBorderWidth: 1, pointBorderColor: RED, pointBackgroundColor: "#fff", order: 4,
    },
    {
      type: "bar", data: s.o.map((_, i) => ({ x: i, y: [s.l[i], s.h[i]] })),
      backgroundColor: col, borderWidth: 0, barThickness: 1, grouped: false, order: 2,
    },
    {
      type: "bar", data: s.o.map((v, i) => ({ x: i, y: [Math.min(v, s.c[i]), Math.max(v, s.c[i])] })),
      backgroundColor: fill, borderColor: col, borderWidth: 1, borderSkipped: false,
      barThickness: 5, minBarLength: 1, grouped: false, order: 1,
    },
  ];
  return {
    type: "bar", data: { datasets }, plugins: [framePlugin],
    options: baseOptions({
      x: xAxis(s.ticks, s.xmin, s.xmax, "inside", s.insidePad),
      y: yAxis({ ...s.price, side: "right", width: s.rightW, pad: s.rPad }),
      yv: yAxis({ ...s.volume, side: "left", width: s.leftW, pad: s.vPad, grid: false }),
    }, 0, false),
  };
}

function stoConfig(s: Side) {
  const lvl = (v: number, dash: number[], color: string) => ({
    type: "line", data: [{ x: s.xmin, y: v }, { x: s.xmax, y: v }], borderColor: color, borderWidth: 1,
    borderDash: dash, pointRadius: 0, order: 8,
  });
  return {
    type: "line", plugins: [framePlugin],
    data: {
      datasets: [
        lvl(stoLevels[0], [], "#5e5e5e"), lvl(stoLevels[1], [7, 3, 2, 3], "#6e6e6e"), lvl(stoLevels[2], [], "#5e5e5e"),
        lineSet(xy(s.d), "#ff0000", 1.1, { order: 2 }),
        lineSet(xy(s.k), "#000", 1.9, { order: 1 }),
      ],
    },
    options: baseOptions({
      x: xAxis(s.ticks, s.xmin, s.xmax, "none", 0),
      y: yAxis({ min: s.sto.min, max: s.sto.max, ticks: stoGridTicks, fmt: (v) => (stoLevels.includes(v) ? String(v) : ""), side: "right", width: s.rightW, pad: s.rPad }),
    }, s.leftW, false),
  };
}

function singleConfig(s: Side, series: P[], ax: Side["macdAx"], bottom: boolean) {
  return {
    type: "line", plugins: [framePlugin],
    data: { datasets: [lineSet(xy(series), "#000", 2, { order: 1 })] },
    options: baseOptions({
      x: xAxis(s.ticks, s.xmin, s.xmax, bottom ? "below" : "none", s.belowPad),
      y: yAxis({ ...ax, side: "right", width: s.rightW, pad: s.rPad }),
    }, s.leftW, bottom),
  };
}

const LSG: Side = {
  ticks: lsgTicks, xmin: -0.6, xmax: 126.2,
  o: lsgOpen, h: lsgHigh, l: lsgLow, c: lsgClose, vol: lsgVolumeM, sar: lsgSar,
  ma: lsgMa50, up: lsgBbUpper, mid: lsgBbMid, lo: lsgBbLower, k: lsgStoK, d: lsgStoD, macd: lsgMacd, bbw: lsgBbw,
  price: { min: 0.419, max: 1.037, ticks: lsgPriceTicks, fmt: (v) => v.toFixed(2) },
  volume: { min: -1.4, max: 28, ticks: lsgVolTicks, fmt: (v) => v + "M" },
  sto: { min: -7, max: 107 },
  macdAx: { min: -0.049, max: 0.088, ticks: lsgMacdTicks, fmt: (v) => v.toFixed(3) },
  bbwAx: { min: 11.4, max: 66.9, ticks: lsgBbwTicks, fmt: (v) => String(v) },
  leftW: 31, rightW: 53, rPad: 4, vPad: 3, insidePad: -2, belowPad: 0,
};
const GOLD: Side = {
  ticks: goldTicks, xmin: -0.45, xmax: 125.25,
  o: goldOpen, h: goldHigh, l: goldLow, c: goldClose, vol: goldVolumeK, sar: goldSar,
  ma: goldMa50, up: goldBbUpper, mid: goldBbMid, lo: goldBbLower, k: goldStoK, d: goldStoD, macd: goldMacd, bbw: goldBbw,
  price: { min: 1164.2, max: 1397.9, ticks: goldPriceTicks, fmt: (v) => String(v) },
  volume: { min: -42.86, max: 842.9, ticks: goldVolTicks, fmt: (v) => (v === 50 ? "50000" : v + "K") },
  sto: { min: -7.4, max: 108.1 },
  macdAx: { min: -19.5, max: 27.3, ticks: goldMacdTicks, fmt: (v) => String(v) },
  bbwAx: { min: 1.32, max: 11.1, ticks: goldBbwTicks, fmt: (v) => String(v) },
  leftW: 50, rightW: 92, rPad: 4, vPad: 2, insidePad: -2, belowPad: 1.4,
};

const PANES = [
  { left: 0, top: 55, width: 850, height: 294, make: () => mainConfig(LSG) },
  { left: 0, top: 349, width: 850, height: 98, make: () => stoConfig(LSG) },
  { left: 0, top: 447, width: 850, height: 98, make: () => singleConfig(LSG, LSG.macd, LSG.macdAx, false) },
  { left: 0, top: 545, width: 850, height: 113, make: () => singleConfig(LSG, LSG.bbw, LSG.bbwAx, true) },
  { left: 850, top: 47, width: 900, height: 310, make: () => mainConfig(GOLD) },
  { left: 850, top: 357, width: 900, height: 104, make: () => stoConfig(GOLD) },
  { left: 850, top: 461, width: 900, height: 104, make: () => singleConfig(GOLD, GOLD.macd, GOLD.macdAx, false) },
  { left: 850, top: 565, width: 900, height: 119, make: () => singleConfig(GOLD, GOLD.bbw, GOLD.bbwAx, true) },
];

/* ---------- small legend icons ---------- */
const Bar = ({ c, h = 2, w = 8 }: { c: string; h?: number; w?: number }) => (
  <span style={{ display: "inline-block", width: w, height: h, background: c }} />
);
const CandleIcon = () => (
  <span style={{ position: "relative", display: "inline-block", width: 9, height: 9 }}>
    <span style={{ position: "absolute", left: 1, top: 0, width: 1, height: 9, background: "#000" }} />
    <span style={{ position: "absolute", left: 0, top: 2, width: 3, height: 5, background: "#000" }} />
    <span style={{ position: "absolute", left: 5, top: 0, width: 1, height: 9, background: "#000" }} />
    <span style={{ position: "absolute", left: 4, top: 2, width: 3, height: 5, boxSizing: "border-box", border: "1px solid #000", background: "#fff" }} />
  </span>
);
const SarIcon = () => (
  <span style={{ position: "relative", display: "inline-block", width: 9, height: 8 }}>
    <span style={{ position: "absolute", left: 0, top: 3, width: 4, height: 4, boxSizing: "border-box", border: "1px solid " + RED }} />
    <span style={{ position: "absolute", left: 5, top: 0, width: 4, height: 4, boxSizing: "border-box", border: "1px solid " + RED }} />
  </span>
);
const VolIcon = () => (
  <span style={{ position: "relative", display: "inline-block", width: 9, height: 9 }}>
    <span style={{ position: "absolute", left: 0, bottom: 0, width: 2, height: 6, background: "#777" }} />
    <span style={{ position: "absolute", left: 3, bottom: 0, width: 2, height: 9, background: "#777" }} />
    <span style={{ position: "absolute", left: 6, bottom: 0, width: 2, height: 7, background: "#777" }} />
  </span>
);

function Row({ x, y, icon, children, bg = false }: any) {
  return (
    <div style={{
      position: "absolute", left: x, top: y, height: 12, display: "flex", alignItems: "center",
      whiteSpace: "nowrap", fontFamily: LFONT, fontSize: 10.5, lineHeight: "12px",
      background: bg ? "#fff" : "transparent", paddingRight: bg ? 2 : 0,
    }}>
      <span style={{ display: "inline-flex", width: 11.5, alignItems: "center" }}>{icon}</span>
      {children}
    </div>
  );
}

function Quote({ right, top, items }: { right: number; top: number; items: [string, string][] }) {
  return (
    <div style={{ position: "absolute", right, top, fontFamily: FONT, fontSize: 11, lineHeight: "13px", whiteSpace: "nowrap", color: "#000" }}>
      {items.map(([k, v], i) => (
        <span key={k} style={{ marginLeft: i ? 8 : 0 }}><b>{k}</b> {v}</span>
      ))}
      <span style={{ color: "#8e1b3c", fontSize: 8, marginLeft: 4, verticalAlign: "1px" }}>▼</span>
    </div>
  );
}

export default function App() {
  const refs = useRef<(HTMLCanvasElement | null)[]>([]);
  useEffect(() => {
    const charts = PANES.map((p, i) => new Chart(refs.current[i] as HTMLCanvasElement, p.make() as any));
    return () => charts.forEach((c) => c.destroy());
  }, []);

  const black = { color: "#000" };
  return (
    <div style={{ position: "absolute", left: 0, top: 0, width: 1750, height: 700, background: "#fff", overflow: "hidden" }}>
      {PANES.map((p, i) => (
        <div key={i} style={{ position: "absolute", left: p.left, top: p.top, width: p.width, height: p.height }}>
          <canvas ref={(el) => { refs.current[i] = el; }} />
        </div>
      ))}

      {/* ----- LSG.TO header ----- */}
      <div style={{ position: "absolute", left: 31, top: 27.5, fontFamily: FONT, fontSize: 14, lineHeight: "17px", whiteSpace: "nowrap" }}>
        <b>LSG.TO</b> <span style={{ fontSize: 11 }}>Lake Shore Gold Corp.</span> <span style={{ fontSize: 10 }}>TSE</span>
      </div>
      <div style={{ position: "absolute", left: 31, top: 42.4, fontFamily: FONT, fontSize: 11, lineHeight: "13px" }}>27-Jun-2014</div>
      <div style={{ position: "absolute", right: 1750 - 797, top: 29.7, fontFamily: FONT, fontSize: 11, lineHeight: "13px", color: "#555" }}>© StockCharts.com</div>
      <Quote right={1750 - 797} top={42.4} items={lsgQuote} />

      {/* ----- $GOLD header ----- */}
      <div style={{ position: "absolute", left: 900, top: 18, fontFamily: FONT, fontSize: 14, lineHeight: "17px", whiteSpace: "nowrap" }}>
        <b>$GOLD</b> <span style={{ fontSize: 11 }}>Gold - Spot Price (EOD)</span> <span style={{ fontSize: 10 }}>CME</span>
      </div>
      <div style={{ position: "absolute", left: 900, top: 33.7, fontFamily: FONT, fontSize: 11, lineHeight: "13px" }}>27-Jun-2014</div>
      <div style={{ position: "absolute", right: 1750 - 1657, top: 20.7, fontFamily: FONT, fontSize: 11, lineHeight: "13px", color: "#555" }}>© StockCharts.com</div>
      <Quote right={1750 - 1657} top={33.7} items={goldQuote} />

      {/* ----- LSG.TO legends ----- */}
      <Row x={35} y={56.7} icon={<CandleIcon />}><span style={black}>LSG.TO (Daily) 0.94</span></Row>
      <Row x={35} y={66.7} icon={<Bar c={MA_BLUE} />}><span style={{ color: "#000080" }}>MA(50) 0.85</span></Row>
      <Row x={35} y={77} icon={<SarIcon />}><span style={{ color: RED }}>SAR(0.01,0.2) 0.81</span></Row>
      <Row x={35} y={87} icon={<Bar c={BB_GREEN} />}><span style={{ color: "#006400" }}>BB(20,2.0) 0.73 - 0.90 - 1.06</span></Row>
      <Row x={35} y={97} icon={<VolIcon />}><span style={{ color: "#555" }}>Volume 1,688,900</span></Row>
      <Row x={34} y={350.7} bg icon={<Bar c="#000" h={3} />}><span>Slow STO %K(30) %D(3) 77.78, <span style={{ color: "#ff0000" }}>76.09</span></span></Row>
      <Row x={34} y={448.3} bg icon={<Bar c="#000" h={3} />}><span>MACD(12,26) 0.037</span></Row>
      <Row x={34} y={546.7} bg icon={<Bar c="#000" h={3} />}><span>BB Width(20,2.0) 36.583</span></Row>

      {/* ----- $GOLD legends ----- */}
      <Row x={904} y={47.6} icon={<CandleIcon />}><span style={black}>$GOLD (Daily) 1316.00</span></Row>
      <Row x={904} y={58} icon={<Bar c={MA_BLUE} />}><span style={{ color: "#000080" }}>MA(50) 1285.69</span></Row>
      <Row x={904} y={68.7} icon={<SarIcon />}><span style={{ color: RED }}>SAR(0.01,0.2) 1267.50</span></Row>
      <Row x={904} y={80} icon={<Bar c={BB_GREEN} />}><span style={{ color: "#006400" }}>BB(20,2.0) 1221.60 - 1280.36 - 1339.12</span></Row>
      <Row x={904} y={90.7} icon={<VolIcon />}><span style={{ color: "#555" }}>Volume 95,604</span></Row>
      <Row x={903.5} y={358} bg icon={<Bar c="#000" h={3} />}><span>Slow STO %K(30) %D(3) 89.70, <span style={{ color: "#ff0000" }}>91.07</span></span></Row>
      <Row x={903.5} y={462.3} bg icon={<Bar c="#000" h={3} />}><span>MACD(12,26) 11.321</span></Row>
      <Row x={903.5} y={566.3} bg icon={<Bar c="#000" h={3} />}><span>BB Width(20,2.0) 9.178</span></Row>
    </div>
  );
}
